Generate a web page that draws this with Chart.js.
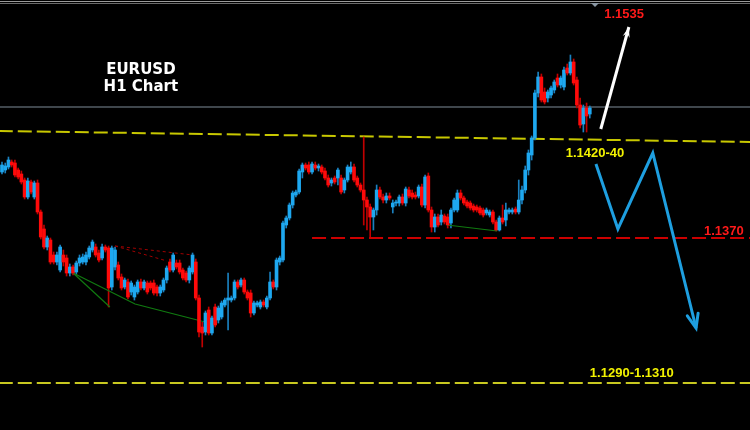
<!DOCTYPE html>
<html>
<head>
<meta charset="utf-8">
<title>EURUSD H1</title>
<script src="https://cdn.jsdelivr.net/npm/chart.js@4.4.0/dist/chart.umd.min.js"></script>
<style>
  html, body { margin: 0; padding: 0; background: #000; }
  #wrap { width: 750px; height: 430px; position: relative; }
</style>
</head>
<body>
<div id="wrap"><canvas id="grafico"></canvas></div>
<script>
// H1 candles, oldest first
const opens = [
  1.14040,1.14050,1.14065,1.14090,1.14085,1.14050,1.14030,1.14000,1.13915,1.13990,
  1.13915,1.13985,1.13840,1.13755,1.13665,1.13700,1.13625,1.13590,1.13550,1.13625,
  1.13610,1.13535,1.13565,1.13540,1.13585,1.13590,1.13590,1.13615,1.13650,1.13665,
  1.13635,1.13610,1.13665,1.13660,1.13465,1.13565,1.13575,1.13515,1.13465,1.13490,
  1.13440,1.13415,1.13440,1.13490,1.13460,1.13485,1.13485,1.13485,1.13465,1.13435,
  1.13450,1.13500,1.13590,1.13550,1.13585,1.13585,1.13550,1.13535,1.13500,1.13540,
  1.13590,1.13410,1.13265,1.13240,1.13350,1.13235,1.13365,1.13300,1.13315,1.13375,
  1.13400,1.13400,1.13410,1.13490,1.13475,1.13500,1.13440,1.13435,1.13335,1.13375,
  1.13365,1.13390,1.13365,1.13410,1.13490,1.13465,1.13590,1.13600,1.13775,1.13810,
  1.13875,1.13925,1.13940,1.14040,1.14075,1.14075,1.14040,1.14075,1.14060,1.14065,
  1.14045,1.14010,1.13985,1.14010,1.14010,1.14010,1.13950,1.14000,1.14040,1.14065,
  1.14010,1.13975,1.13950,1.13900,1.13865,1.13815,1.13850,1.13950,1.13915,1.13900,
  1.13920,1.13865,1.13885,1.13885,1.13915,1.13885,1.13950,1.13935,1.13925,1.13920,
  1.13965,1.13875,1.14020,1.13850,1.13765,1.13815,1.13790,1.13820,1.13815,1.13785,
  1.13850,1.13850,1.13935,1.13910,1.13890,1.13885,1.13870,1.13865,1.13860,1.13850,
  1.13835,1.13825,1.13840,1.13790,1.13750,1.13810,1.13800,1.13840,1.13840,1.13855,
  1.13840,1.13900,1.13950,1.14050,1.14125,1.14210,1.14435,1.14515,1.14440,1.14410,
  1.14425,1.14450,1.14510,1.14475,1.14465,1.14560,1.14535,1.14590,1.14500,1.14375,
  1.14280,1.14360,1.14330
];
const highs = [
  1.14090,1.14085,1.14115,1.14100,1.14100,1.14060,1.14045,1.14010,1.14010,1.14000,
  1.13995,1.14000,1.13850,1.13775,1.13720,1.13710,1.13640,1.13640,1.13675,1.13650,
  1.13625,1.13580,1.13575,1.13595,1.13625,1.13630,1.13640,1.13670,1.13700,1.13680,
  1.13650,1.13680,1.13675,1.13670,1.13670,1.13665,1.13590,1.13530,1.13510,1.13505,
  1.13495,1.13475,1.13500,1.13505,1.13500,1.13495,1.13495,1.13500,1.13475,1.13475,
  1.13510,1.13570,1.13605,1.13635,1.13600,1.13600,1.13560,1.13545,1.13570,1.13635,
  1.13605,1.13425,1.13290,1.13345,1.13365,1.13320,1.13380,1.13370,1.13395,1.13410,
  1.13535,1.13420,1.13500,1.13500,1.13510,1.13510,1.13450,1.13450,1.13395,1.13395,
  1.13400,1.13400,1.13420,1.13540,1.13500,1.13610,1.13620,1.13795,1.13820,1.13885,
  1.13945,1.13950,1.14055,1.14085,1.14085,1.14090,1.14090,1.14090,1.14080,1.14075,
  1.14060,1.14025,1.14010,1.14020,1.14060,1.14025,1.14010,1.14075,1.14090,1.14080,
  1.14020,1.13985,1.14215,1.13915,1.13880,1.13860,1.13975,1.13965,1.13930,1.13935,
  1.13935,1.13900,1.13900,1.13925,1.13930,1.13965,1.13965,1.13950,1.13940,1.13975,
  1.13980,1.14025,1.14035,1.13865,1.13830,1.13830,1.13850,1.13830,1.13830,1.13860,
  1.13910,1.13950,1.13950,1.13920,1.13900,1.13895,1.13880,1.13875,1.13870,1.13860,
  1.13860,1.13850,1.13850,1.13800,1.13820,1.13875,1.13885,1.13860,1.13860,1.13865,
  1.14000,1.13970,1.14070,1.14150,1.14220,1.14450,1.14540,1.14530,1.14460,1.14450,
  1.14470,1.14500,1.14530,1.14520,1.14565,1.14580,1.14625,1.14605,1.14515,1.14410,
  1.14375,1.14385,1.14370
];
const lows = [
  1.14030,1.14035,1.14055,1.14065,1.14015,1.14005,1.13980,1.13905,1.13905,1.13930,
  1.13905,1.13830,1.13705,1.13655,1.13650,1.13580,1.13580,1.13575,1.13540,1.13570,
  1.13520,1.13520,1.13525,1.13525,1.13570,1.13580,1.13575,1.13605,1.13640,1.13615,
  1.13590,1.13600,1.13640,1.13365,1.13450,1.13550,1.13500,1.13450,1.13455,1.13405,
  1.13425,1.13400,1.13430,1.13450,1.13450,1.13430,1.13450,1.13425,1.13420,1.13420,
  1.13440,1.13485,1.13540,1.13540,1.13555,1.13530,1.13500,1.13490,1.13485,1.13530,
  1.13400,1.13215,1.13165,1.13225,1.13225,1.13225,1.13265,1.13285,1.13305,1.13365,
  1.13250,1.13390,1.13400,1.13455,1.13465,1.13430,1.13400,1.13315,1.13325,1.13365,
  1.13355,1.13365,1.13355,1.13400,1.13455,1.13450,1.13575,1.13590,1.13760,1.13800,
  1.13860,1.13915,1.13930,1.14010,1.14050,1.14030,1.14030,1.14050,1.14045,1.14030,
  1.14000,1.13965,1.13970,1.13980,1.13975,1.13930,1.13935,1.13990,1.14030,1.13990,
  1.13965,1.13940,1.13775,1.13750,1.13715,1.13750,1.13825,1.13905,1.13885,1.13885,
  1.13900,1.13835,1.13870,1.13870,1.13875,1.13870,1.13910,1.13905,1.13905,1.13910,
  1.13865,1.13860,1.13840,1.13740,1.13740,1.13765,1.13775,1.13780,1.13760,1.13760,
  1.13840,1.13840,1.13900,1.13875,1.13860,1.13850,1.13840,1.13840,1.13825,1.13815,
  1.13825,1.13815,1.13780,1.13745,1.13745,1.13780,1.13770,1.13830,1.13830,1.13830,
  1.13830,1.13880,1.13935,1.14025,1.14100,1.14200,1.14415,1.14390,1.14380,1.14390,
  1.14410,1.14435,1.14465,1.14460,1.14450,1.14525,1.14525,1.14475,1.14360,1.14260,
  1.14240,1.14240,1.14310
];
const closes = [
  1.14075,1.14070,1.14100,1.14075,1.14025,1.14015,1.13990,1.13915,1.13995,1.13940,
  1.13985,1.13840,1.13715,1.13665,1.13710,1.13590,1.13590,1.13625,1.13665,1.13590,
  1.13535,1.13565,1.13535,1.13585,1.13610,1.13615,1.13625,1.13660,1.13690,1.13625,
  1.13600,1.13665,1.13650,1.13460,1.13660,1.13650,1.13510,1.13460,1.13500,1.13415,
  1.13485,1.13465,1.13490,1.13460,1.13490,1.13440,1.13460,1.13435,1.13435,1.13465,
  1.13500,1.13560,1.13550,1.13625,1.13565,1.13540,1.13510,1.13500,1.13560,1.13625,
  1.13410,1.13240,1.13235,1.13335,1.13235,1.13310,1.13275,1.13360,1.13385,1.13400,
  1.13410,1.13410,1.13490,1.13465,1.13500,1.13440,1.13410,1.13335,1.13385,1.13385,
  1.13390,1.13375,1.13410,1.13490,1.13465,1.13600,1.13610,1.13785,1.13810,1.13875,
  1.13935,1.13940,1.14045,1.14075,1.14060,1.14040,1.14080,1.14060,1.14070,1.14040,
  1.14010,1.13975,1.14000,1.13990,1.14050,1.13940,1.14000,1.14065,1.14065,1.14000,
  1.13975,1.13950,1.13900,1.13865,1.13815,1.13850,1.13950,1.13915,1.13900,1.13920,
  1.13910,1.13885,1.13890,1.13915,1.13885,1.13955,1.13920,1.13915,1.13915,1.13965,
  1.13875,1.14015,1.13850,1.13765,1.13815,1.13775,1.13825,1.13790,1.13775,1.13850,
  1.13900,1.13935,1.13910,1.13885,1.13870,1.13860,1.13850,1.13850,1.13835,1.13825,
  1.13850,1.13840,1.13790,1.13750,1.13810,1.13790,1.13850,1.13850,1.13850,1.13840,
  1.13900,1.13950,1.14050,1.14135,1.14210,1.14435,1.14515,1.14400,1.14390,1.14440,
  1.14460,1.14490,1.14475,1.14510,1.14550,1.14535,1.14590,1.14485,1.14375,1.14275,
  1.14360,1.14320,1.14360
];

// levels and drawn lines, in [candle index, price]
const bidLine = [[-1, 1.14365], [232, 1.14365]];
const zoneLine = [[-1, 1.14245], [232, 1.14190]];
const supportLine = [[96, 1.13710], [232, 1.13710]];
const targetLine = [[-1, 1.12985], [232, 1.12985]];
const bullArrow = [[185.4, 1.14255], [194.1, 1.14765]];
const bearPath = [[183.9, 1.14080], [190.7, 1.13755], [201.5, 1.14135], [214.9, 1.13260]];
const redFanA = [[35.0, 1.13670], [59.1, 1.13625]];
const redFanB = [[35.0, 1.13670], [51.1, 1.13595]];
const greenFanA = [[22.0, 1.13535], [33.4, 1.13365]];
const greenFanB = [[22.0, 1.13535], [41.2, 1.13380], [65.3, 1.13280]];
const greenBase = [[137.8, 1.13775], [153.3, 1.13745]];

const labelTexts = ['EURUSD', 'H1 Chart', '1.1535', '1.1420-40', '1.1370', '1.1290-1.1310'];
const labelAt = [[43.0, 1.14550], [43.0, 1.14465], [192.6, 1.14830], [183.6, 1.14135], [223.5, 1.13745], [195.0, 1.13035]];

if (opens.length !== closes.length || highs.length !== lows.length || opens.length !== highs.length) {
    throw new Error('candle arrays differ: ' + [opens.length, highs.length, lows.length, closes.length].join(','));
}

const alcista = opens.map((o, i) => closes[i] >= o);
const cuerpos = opens.map((o, i) => ({ x: i, y: [o, closes[i]] }));
const mechas = opens.map((o, i) => ({ x: i, y: [lows[i], highs[i]] }));
const aPuntos = arr => arr.map(p => ({ x: p[0], y: p[1] }));

function linea(arr, color, width, dash, order, extra) {
    return Object.assign({
        type: 'line',
        data: aPuntos(arr),
        borderColor: color,
        borderWidth: width,
        borderDash: dash || [],
        pointRadius: 0,
        fill: false,
        tension: 0,
        order: order
    }, extra || {});
}

const extras = {
    id: 'extras',
    afterDatasetsDraw(chart) {
        const { ctx, scales } = chart;
        const w = chart.width;
        ctx.save();
        // window frame at the top
        ctx.fillStyle = '#9a9a9a';
        ctx.fillRect(0, 1, w, 1);
        ctx.fillStyle = '#6a6a6a';
        ctx.fillRect(0, 3, w, 1);
        // chart shift marker
        const sx = scales.x.getPixelForValue(183.6);
        ctx.fillStyle = '#8a97a3';
        ctx.beginPath();
        ctx.moveTo(sx - 4, 3);
        ctx.lineTo(sx + 4, 3);
        ctx.lineTo(sx, 7);
        ctx.closePath();
        ctx.fill();

        // arrow heads
        chart.data.datasets.forEach((ds, i) => {
            if (!ds.punta) return;
            const pts = chart.getDatasetMeta(i).data;
            const a = pts[pts.length - 2], b = pts[pts.length - 1];
            const ang = Math.atan2(b.y - a.y, b.x - a.x);
            ctx.strokeStyle = ds.borderColor;
            ctx.fillStyle = ds.borderColor;
            if (ds.punta === 'llena') {
                const len = 11, ab = 0.33;
                ctx.beginPath();
                ctx.moveTo(b.x, b.y);
                ctx.lineTo(b.x - len * Math.cos(ang - ab), b.y - len * Math.sin(ang - ab));
                ctx.lineTo(b.x - len * 0.6 * Math.cos(ang), b.y - len * 0.6 * Math.sin(ang));
                ctx.lineTo(b.x - len * Math.cos(ang + ab), b.y - len * Math.sin(ang + ab));
                ctx.closePath();
                ctx.fill();
            } else {
                const len = 15, ab = 0.38;
                ctx.lineWidth = ds.borderWidth;
                ctx.lineCap = 'round';
                ctx.beginPath();
                ctx.moveTo(b.x - len * Math.cos(ang - ab), b.y - len * Math.sin(ang - ab));
                ctx.lineTo(b.x, b.y);
                ctx.lineTo(b.x - len * Math.cos(ang + ab), b.y - len * Math.sin(ang + ab));
                ctx.stroke();
            }
        });

        // texts
        const estilos = [
            ['bold 15px "DejaVu Sans"', '#ffffff'],
            ['bold 15px "DejaVu Sans"', '#ffffff'],
            ['bold 13px "Liberation Sans", Arial', '#ff1a1a'],
            ['bold 13px "Liberation Sans", Arial', '#f2f200'],
            ['bold 13px "Liberation Sans", Arial', '#ff1a1a'],
            ['bold 13px "Liberation Sans", Arial', '#f2f200']
        ];
        ctx.textAlign = 'center';
        ctx.textBaseline = 'middle';
        labelTexts.forEach((t, i) => {
            ctx.font = estilos[i][0];
            ctx.fillStyle = estilos[i][1];
            ctx.fillText(t, scales.x.getPixelForValue(labelAt[i][0]), scales.y.getPixelForValue(labelAt[i][1]));
        });
        ctx.restore();
    }
};

const ctx = document.getElementById('grafico').getContext('2d');
const grafico = new Chart(ctx, {
    type: 'bar',
    data: {
        datasets: [
            linea(bullArrow, '#ffffff', 3, null, 0, { punta: 'llena' }),
            linea(bearPath, '#1e9fe0', 3, null, 0, { punta: 'abierta' }),
            {
                data: cuerpos,
                backgroundColor: alcista.map(u => u ? '#1ea8f0' : '#ff0a0a'),
                barThickness: 3,
                grouped: false,
                borderWidth: 0,
                borderSkipped: false,
                order: 1
            },
            {
                data: mechas,
                backgroundColor: alcista.map(u => u ? '#1a80bf' : '#c00000'),
                barThickness: 1,
                grouped: false,
                borderWidth: 0,
                borderSkipped: false,
                order: 2
            },
            linea(redFanA, '#a00000', 1, [3, 3], 1),
            linea(redFanB, '#a00000', 1, [3, 3], 1),
            linea(greenFanA, '#107a10', 1.2, null, 1),
            linea(greenFanB, '#107a10', 1.2, null, 1),
            linea(greenBase, '#107a10', 1.2, null, 1),
            linea(bidLine, '#7f8c98', 1, null, 3),
            linea(zoneLine, '#c8c800', 2, [14, 5], 3),
            linea(supportLine, '#cc0000', 2, [14, 5], 3),
            linea(targetLine, '#c8c820', 2, [14, 5], 3)
        ]
    },
    options: {
        responsive: true,
        maintainAspectRatio: false,
        animation: false,
        layout: { padding: 0 },
        scales: {
            x: { type: 'linear', min: -0.62, max: 231.6, display: false, offset: false },
            y: { type: 'linear', min: 1.1275, max: 1.1490, display: false }
        },
        plugins: {
            legend: { display: false },
            tooltip: { enabled: false },
            title: { display: false }
        }
    },
    plugins: [extras]
});
</script>
</body>
</html>
